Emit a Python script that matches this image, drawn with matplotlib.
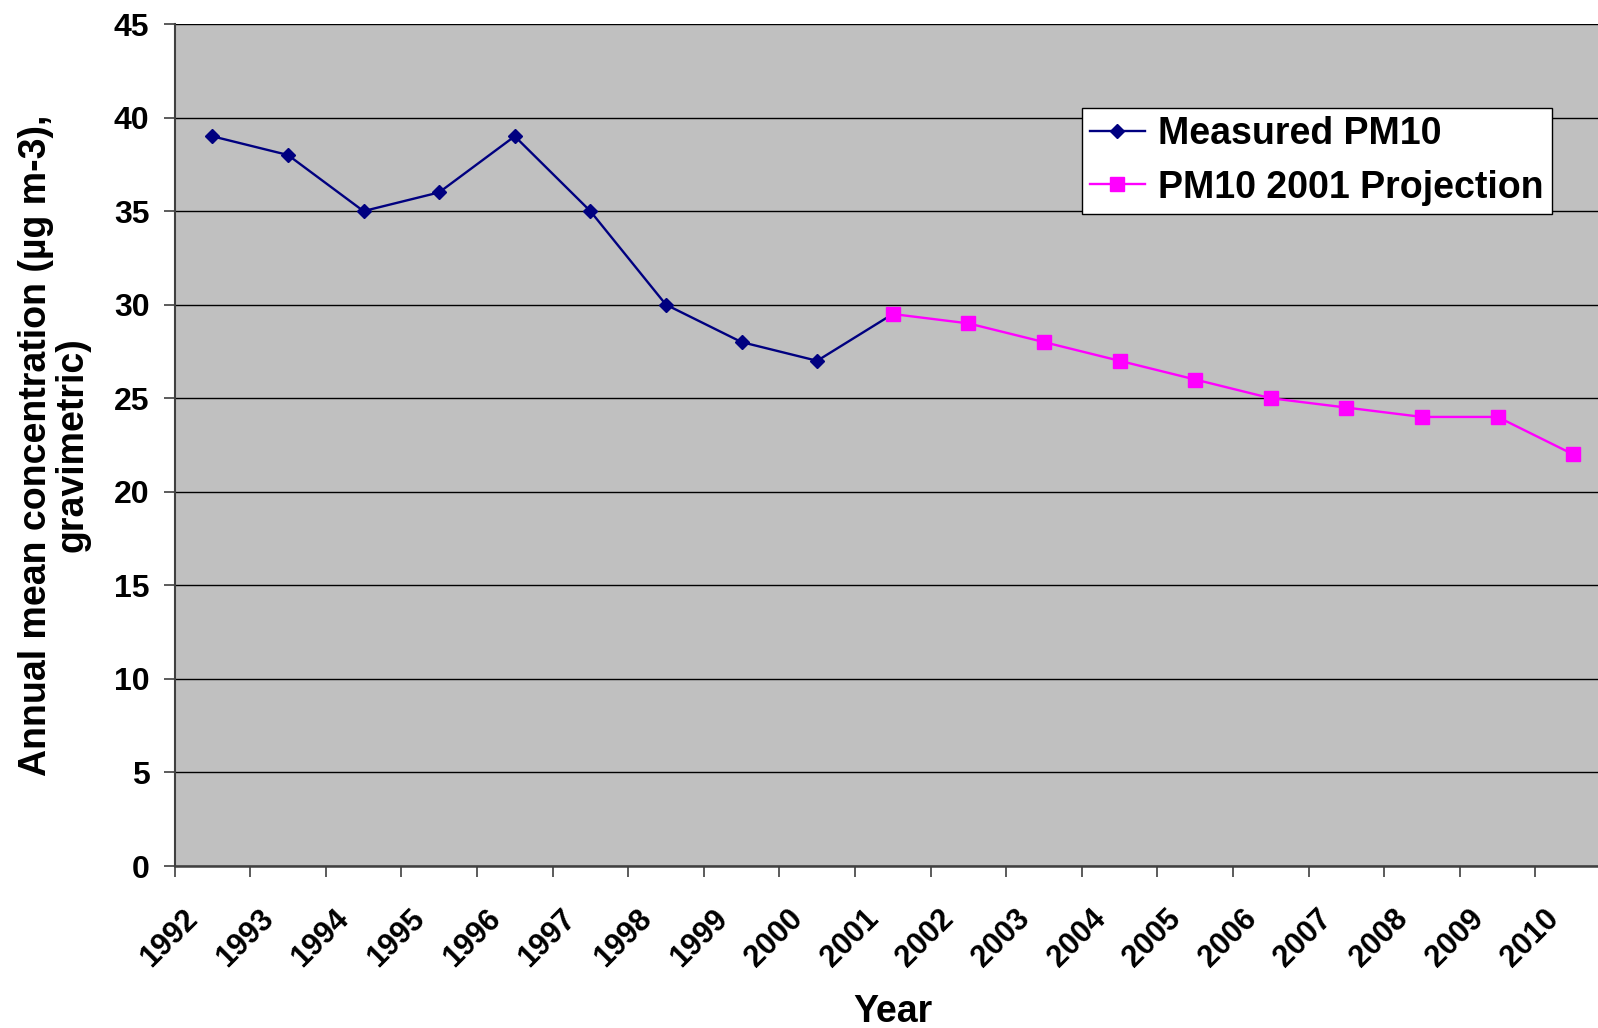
import matplotlib
matplotlib.use("Agg")
import matplotlib.pyplot as plt
from matplotlib.transforms import ScaledTranslation
import numpy as np

years = [str(y) for y in range(1992, 2011)]
measured_years = ["1992", "1993", "1994", "1995", "1996", "1997", "1998", "1999", "2000", "2001"]
measured = [39, 38, 35, 36, 39, 35, 30, 28, 27, 29.5]
proj_years = ["2001", "2002", "2003", "2004", "2005", "2006", "2007", "2008", "2009", "2010"]
projection = [29.5, 29, 28, 27, 26, 25, 24.5, 24, 24, 22]
yticks = [0, 5, 10, 15, 20, 25, 30, 35, 40, 45]

plt.rcParams['font.family'] = ['Liberation Sans', 'DejaVu Sans']
plt.rcParams['font.weight'] = 'bold'

W, H = 1598, 1028
fig = plt.figure(figsize=(W / 100, H / 100), dpi=100)
ax = fig.add_axes([174.5 / W, (H - 866) / H, (1611 - 174.5) / W, (866 - 24) / H])
ax.set_facecolor('#C0C0C0')

idx = {y: i + 0.5 for i, y in enumerate(years)}
mx = [idx[y] for y in measured_years]
px = [idx[y] for y in proj_years]

ax.plot(mx, measured, color='#000080', lw=1.7, marker='D', ms=7.5,
        label='Measured PM10', zorder=3)
ax.plot(px, projection, color='#FF00FF', lw=1.7, marker='s', ms=10.5,
        label='PM10 2001 Projection', zorder=4)

ax.set_xlim(0, len(years))
ax.set_ylim(0, 45)
ax.set_yticks(yticks)
ax.set_yticklabels([str(v) for v in yticks], fontsize=23, fontweight='bold')
ax.yaxis.grid(True, color='black', lw=1.0)
ax.set_axisbelow(True)

ax.set_xticks(np.arange(len(years)) + 0.5)
ax.set_xticklabels(years, fontsize=22, fontweight='bold', rotation=45,
                   ha='right', va='center', rotation_mode='anchor')
ax.set_xticks(np.arange(len(years) + 1), minor=True)
ax.tick_params(axis='x', which='major', length=0, pad=35)
ax.tick_params(axis='x', which='minor', length=8, width=1.2, color='#404040', direction='out')
ax.tick_params(axis='y', which='major', length=8, width=1.2, color='#404040', direction='out', pad=10)
for lab in ax.get_xticklabels():
    lab.set_transform(lab.get_transform() + ScaledTranslation(-18.7 / 100, 0, fig.dpi_scale_trans))

for s in ['top', 'right']:
    ax.spines[s].set_visible(False)
ax.spines['left'].set_color('#404040')
ax.spines['left'].set_linewidth(1.5)
ax.spines['bottom'].set_color('#404040')
ax.spines['bottom'].set_linewidth(1.8)

ax.set_xlabel('Year', fontsize=27, fontweight='bold')
fig.text(54 / W, (H - 445) / H, 'Annual mean concentration (µg m-3),\ngravimetric)',
         rotation=90, ha='center', va='center', fontsize=27, fontweight='bold',
         linespacing=1.0)
ax.xaxis.set_label_coords((893 - 174.5) / (1611 - 174.5), -(1012 - 866) / (866 - 24))
ax.xaxis.label.set_va('center')

leg = fig.legend(loc='upper left', bbox_to_anchor=(1082 / W, (H - 108) / H),
                 fontsize=27, frameon=True, fancybox=False, framealpha=1,
                 edgecolor='black', borderpad=0.22, labelspacing=0.46,
                 handlelength=1.45, handletextpad=0.35, borderaxespad=0)
leg.get_frame().set_linewidth(1.0)
for t in leg.get_texts():
    t.set_fontweight('bold')

fig.savefig('out.png', dpi=100)
